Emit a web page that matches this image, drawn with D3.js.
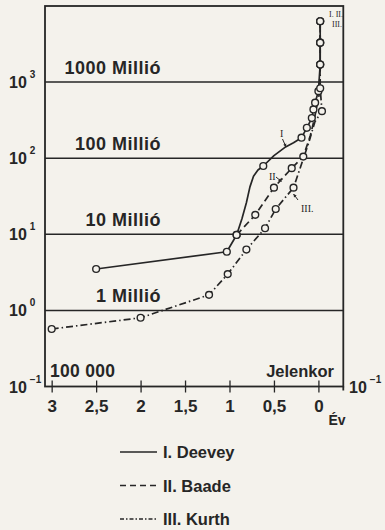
<!DOCTYPE html>
<html><head><meta charset="utf-8">
<script src="https://cdn.jsdelivr.net/npm/d3@7"></script>
<style>
html,body{margin:0;padding:0;background:#f4f2ec;}
svg{display:block;}
text{font-family:"Liberation Sans",Arial,sans-serif;fill:#262626;}
</style></head><body>
<svg id="c" width="385" height="530"></svg>
<script>
// ---- data (years in units shown on axis, population in millions) ----
const xTicks = [3, 2.5, 2, 1.5, 1, 0.5, 0];
const gridValues = [1, 10, 100, 1000];
const gridLabels = ["1 Millió", "10 Millió", "100 Millió", "1000 Millió"];
const yExponents = [-1, 0, 1, 2, 3];

const deeveyYears = [2.5, 1.03, 0.92, 0.86, 0.81, 0.77, 0.73, 0.68, 0.62, 0.5, 0.38, 0.28, 0.19, 0.13, 0.074, 0.056, 0.037, 0.0, -0.02, -0.02, -0.02];
const deeveyPop   = [3.5, 5.9, 9.8, 16, 26, 42, 58, 70, 79, 108, 138, 160, 186, 251, 337, 437, 536, 760, 1700, 3300, 6300];
const deeveyMark  = [1, 1, 1, 0, 0, 0, 0, 0, 1, 0, 0, 0, 1, 1, 1, 1, 1, 1, 1, 1, 1];

const baadeYears = [0.92, 0.71, 0.50, 0.30, 0.17, 0.09, 0.045, -0.01, -0.02, -0.02, -0.02];
const baadePop   = [9.8, 18, 41, 74, 105, 200, 330, 700, 1700, 3300, 6300];
const baadeMark  = [1, 1, 1, 1, 1, 0, 0, 0, 1, 1, 1];

const kurthYears = [3.0, 2.0, 1.23, 1.02, 0.81, 0.60, 0.48, 0.28, 0.11, 0.04, -0.04, -0.02, -0.02, -0.02, -0.02];
const kurthPop   = [0.57, 0.80, 1.6, 3.0, 6.3, 12, 21.5, 41, 158, 300, 415, 830, 1700, 3300, 6300];
const kurthMark  = [1, 1, 1, 1, 1, 1, 1, 1, 0, 0, 1, 1, 1, 1, 1];

const legendLabels = ["I. Deevey", "II. Baade", "III. Kurth"];

// ---- chart ----
const ink = "#262626";
const svg = d3.select("#c");
const L = 45, R = 343.3, T = 6, B = 386.5;
const x = d3.scaleLinear().domain([3.075, -0.28]).range([L, R]);
const y = d3.scaleLog().domain([0.1, 10000]).range([B, T]);

// gridlines
svg.append("g").selectAll("line").data(gridValues).join("line")
  .attr("x1", L).attr("x2", R).attr("y1", d => y(d)).attr("y2", d => y(d))
  .attr("stroke", ink).attr("stroke-width", 1.5);

// frame
svg.append("rect").attr("x", L).attr("y", T).attr("width", R - L).attr("height", B - T)
  .attr("fill", "none").attr("stroke", ink).attr("stroke-width", 1.8);
svg.append("line").attr("x1", R).attr("x2", R).attr("y1", B).attr("y2", B + 4)
  .attr("stroke", ink).attr("stroke-width", 1.8);

// x axis with crossing ticks
const xAxis = d3.axisBottom(x).tickValues(xTicks).tickSize(0)
  .tickFormat(d => d3.format("")(d).replace(".", ","));
const gx = svg.append("g").attr("transform", `translate(0,${B})`).call(xAxis);
gx.select(".domain").remove();
gx.selectAll(".tick line").remove();
gx.selectAll(".tick").append("line").attr("y1", -6).attr("y2", 6)
  .attr("stroke", ink).attr("stroke-width", 1.3);
gx.selectAll(".tick text").attr("dy", 0).attr("y", 25)
  .style("font-size", "17px").style("font-weight", "bold").style("font-family", "'Liberation Sans',Arial,sans-serif").attr("fill", ink);
svg.append("text").attr("x", 337).attr("y", 425).attr("text-anchor", "middle")
  .style("font-size", "14px").style("font-weight", "bold").text("Év");

// y labels (10^n)
const yl = svg.append("g").selectAll("text").data(yExponents).join("text")
  .attr("x", 9).attr("y", d => y(Math.pow(10, d)) + 6)
  .style("font-size", "16px").style("font-weight", "bold");
yl.append("tspan").text("10");
yl.append("tspan").attr("dx", 3).attr("dy", -10).style("font-size", "10px").text(d => String(d).replace("-", "\u2212"));
const yr = svg.append("text").attr("x", 349).attr("y", y(0.1) + 6)
  .style("font-size", "16px").style("font-weight", "bold");
yr.append("tspan").text("10");
yr.append("tspan").attr("dx", 3).attr("dy", -10).style("font-size", "10px").text("\u22121");

// grid labels
svg.append("g").selectAll("text").data(gridLabels).join("text")
  .attr("x", 161).attr("y", (d, i) => y(gridValues[i]) - 8).attr("text-anchor", "end")
  .style("font-size", "18px").style("font-weight", "bold").style("letter-spacing", "0.5px").text(d => d);
svg.append("text").attr("x", 50).attr("y", y(0.1) - 10)
  .style("font-size", "17.5px").style("font-weight", "bold").style("letter-spacing", "0.3px").text("100 000");
svg.append("text").attr("x", 334).attr("y", y(0.1) - 10).attr("text-anchor", "end")
  .style("font-size", "16.5px").style("font-weight", "bold").text("Jelenkor");

// series
const series = [
  {years: deeveyYears, pop: deeveyPop, mark: deeveyMark, dash: null},
  {years: baadeYears, pop: baadePop, mark: baadeMark, dash: "7,4"},
  {years: kurthYears, pop: kurthPop, mark: kurthMark, dash: "7,3,1.5,3"}
];
series.forEach(s => {
  const pts = s.years.map((v, i) => [v, s.pop[i], s.mark[i]]);
  const line = d3.line().x(d => x(d[0])).y(d => y(d[1]));
  svg.append("path").datum(pts).attr("d", line).attr("fill", "none")
    .attr("stroke", ink).attr("stroke-width", 1.7).attr("stroke-linejoin", "round")
    .attr("stroke-dasharray", s.dash);
});
series.forEach(s => {
  const pts = s.years.map((v, i) => [v, s.pop[i], s.mark[i]]).filter(d => d[2]);
  svg.append("g").selectAll("circle").data(pts).join("circle")
    .attr("cx", d => x(d[0])).attr("cy", d => y(d[1])).attr("r", 3.4)
    .attr("fill", "#f4f2ec").attr("stroke", ink).attr("stroke-width", 1.4);
});

// annotations
function arrow(x1, y1, x2, y2) {
  svg.append("line").attr("x1", x1).attr("y1", y1).attr("x2", x2).attr("y2", y2)
    .attr("stroke", ink).attr("stroke-width", 1);
  const a = Math.atan2(y2 - y1, x2 - x1), h = 3.5;
  svg.append("path").attr("d", `M${x2},${y2}L${x2 - h*Math.cos(a-0.5)},${y2 - h*Math.sin(a-0.5)}L${x2 - h*Math.cos(a+0.5)},${y2 - h*Math.sin(a+0.5)}Z`)
    .attr("fill", ink);
}
function note(px, py, t, fs) {
  svg.append("text").attr("x", px).attr("y", py).text(t)
    .style("font-size", (fs || 10) + "px").style("font-family", "'Liberation Serif',serif").attr("fill", ink);
}
note(280, 137, "I");
arrow(282.5, 139, 286, 147);
note(269, 180, "II");
arrow(276, 177, 281.5, 181.5);
note(301, 212, "III.");
arrow(298, 200, 293.5, 194);
note(329, 17, "I. II.", 8);
note(332, 27, "III.", 8);

// legend
const lg = svg.append("g");
const dashes = [null, "6,4", "4,2,1.5,2"];
legendLabels.forEach((t, i) => {
  const ly = 452 + i * 33.5;
  lg.append("line").attr("x1", 120).attr("x2", 157).attr("y1", ly).attr("y2", ly)
    .attr("stroke", ink).attr("stroke-width", 1.6).attr("stroke-dasharray", dashes[i]);
  lg.append("text").attr("x", 163).attr("y", ly + 6)
    .style("font-size", "16.5px").style("font-weight", "bold").text(t);
});
</script>
</body></html>
